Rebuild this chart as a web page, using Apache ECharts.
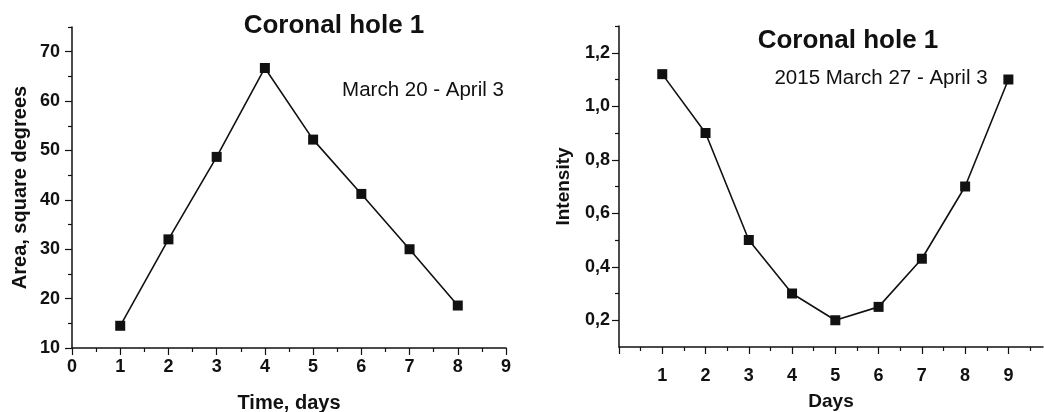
<!DOCTYPE html>
<html>
<head>
<meta charset="utf-8">
<style>
  html, body { margin: 0; padding: 0; background: #fff; }
  #chart { width: 1044px; height: 412px; }
</style>
<script src="https://cdn.jsdelivr.net/npm/echarts/dist/echarts.min.js"></script>
</head>
<body>
<div id="chart"></div>
<script>
// left panel: area of the hole
var areaDays = [1, 2, 3, 4, 5, 6, 7, 8];
var areaVals = [14.5, 32.0, 48.7, 66.7, 52.2, 41.2, 30.0, 18.6];
var areaXTicks = [0, 1, 2, 3, 4, 5, 6, 7, 8, 9];
var areaXMinor = [0.5, 1.5, 2.5, 3.5, 4.5, 5.5, 6.5, 7.5, 8.5];
var areaYTicks = [10, 20, 30, 40, 50, 60, 70];
var areaYMinor = [15, 25, 35, 45, 55, 65, 75];

// right panel: intensity
var intDays = [1, 2, 3, 4, 5, 6, 7, 8, 9];
var intVals = [1.12, 0.90, 0.50, 0.30, 0.20, 0.25, 0.43, 0.70, 1.10];
var intXLabels = [1, 2, 3, 4, 5, 6, 7, 8, 9];
var intXTicks = [0, 1, 2, 3, 4, 5, 6, 7, 8, 9];
var intXMinor = [0.5, 1.5, 2.5, 3.5, 4.5, 5.5, 6.5, 7.5, 8.5, 9.5];
var intYTicks = [0.2, 0.4, 0.6, 0.8, 1.0, 1.2];
var intYMinor = [0.3, 0.5, 0.7, 0.9, 1.1, 1.3];

var FONT = 'Liberation Sans, Arial, sans-serif';
var INK = '#111';

function pairs(xs, ys) {
    var out = [];
    for (var i = 0; i < xs.length; i++) {
        out.push([xs[i], ys[i]]);
    }
    return out;
}

// axis that only draws short minor ticks on top of a main axis
function minorAxis(grid, min, max, vals, pos) {
    return {
        type: 'value', gridIndex: grid, min: min, max: max, position: pos,
        axisLine: {show: false},
        axisLabel: {show: false},
        splitLine: {show: false},
        axisTick: {show: true, inside: false, length: 4, customValues: vals,
            lineStyle: {color: INK, width: 1.2}}
    };
}

function mainAxis(grid, min, max, ticks, labels, margin, fmt) {
    return {
        type: 'value', gridIndex: grid, min: min, max: max,
        axisLine: {show: true, onZero: false, lineStyle: {color: INK, width: 1.5}},
        axisTick: {show: true, inside: false, length: 7, customValues: ticks,
            lineStyle: {color: INK, width: 1.2}},
        axisLabel: {show: true, customValues: labels, margin: margin,
            fontFamily: FONT, fontWeight: 'bold', fontSize: 18, color: INK,
            formatter: fmt},
        splitLine: {show: false}
    };
}

function comma(v) {
    return v.toFixed(1).replace('.', ',');
}

function txt(s, x, y, size, bold) {
    return {
        type: 'text', x: x, y: y, silent: true,
        style: {
            text: s, fill: INK, fontFamily: FONT, fontSize: size,
            fontWeight: bold ? 'bold' : 'normal',
            align: 'center', verticalAlign: 'middle'
        }
    };
}

var myChart = echarts.init(document.getElementById('chart'), null, {renderer: 'canvas'});

var xa0 = mainAxis(0, 0, 9, areaXTicks, areaXTicks, 10);
xa0.name = 'Time, days';
xa0.nameLocation = 'middle';
xa0.nameGap = 45;
xa0.nameTextStyle = {fontFamily: FONT, fontWeight: 'bold', fontSize: 20, color: INK};

var ya0 = mainAxis(0, 10, 75, areaYTicks, areaYTicks, 12);
ya0.name = 'Area, square degrees';
ya0.nameLocation = 'middle';
ya0.nameGap = 42;
ya0.nameTextStyle = {fontFamily: FONT, fontWeight: 'bold', fontSize: 20, color: INK};

var xa1 = mainAxis(1, 0, 9.8, intXTicks, intXLabels, 20);
xa1.name = 'Days';
xa1.nameLocation = 'middle';
xa1.nameGap = 45;
xa1.nameTextStyle = {fontFamily: FONT, fontWeight: 'bold', fontSize: 19, color: INK};

var ya1 = mainAxis(1, 0.1, 1.3, intYTicks, intYTicks, 9, comma);
ya1.name = 'Intensity';
ya1.nameLocation = 'middle';
ya1.nameGap = 46;
ya1.nameTextStyle = {fontFamily: FONT, fontWeight: 'bold', fontSize: 19, color: INK};

var option = {
    backgroundColor: '#fff',
    animation: false,
    grid: [
        {left: 72, top: 27, right: 538, bottom: 64, outerBoundsMode: 'none', containLabel: false},
        {left: 619, top: 26, right: 1, bottom: 65, outerBoundsMode: 'none', containLabel: false}
    ],
    xAxis: [
        xa0,
        xa1,
        minorAxis(0, 0, 9, areaXMinor, 'bottom'),
        minorAxis(1, 0, 9.8, intXMinor, 'bottom')
    ],
    yAxis: [
        ya0,
        ya1,
        minorAxis(0, 10, 75, areaYMinor, 'left'),
        minorAxis(1, 0.1, 1.3, intYMinor, 'left')
    ],
    graphic: [
        txt('Coronal hole 1', 334, 26, 26, true),
        txt('March 20 - April 3', 423, 90, 20.5, false),
        txt('Coronal hole 1', 848, 41, 26, true),
        txt('2015 March 27 - April 3', 881, 78, 20.5, false)
    ],
    series: [
        {
            name: 'Area',
            type: 'line',
            xAxisIndex: 0,
            yAxisIndex: 0,
            data: pairs(areaDays, areaVals),
            symbol: 'rect',
            symbolSize: 10,
            itemStyle: {color: INK},
            lineStyle: {color: INK, width: 1.6}
        },
        {
            name: 'Intensity',
            type: 'line',
            xAxisIndex: 1,
            yAxisIndex: 1,
            data: pairs(intDays, intVals),
            symbol: 'rect',
            symbolSize: 10,
            itemStyle: {color: INK},
            lineStyle: {color: INK, width: 1.6}
        }
    ]
};
myChart.setOption(option);
</script>
</body>
</html>
